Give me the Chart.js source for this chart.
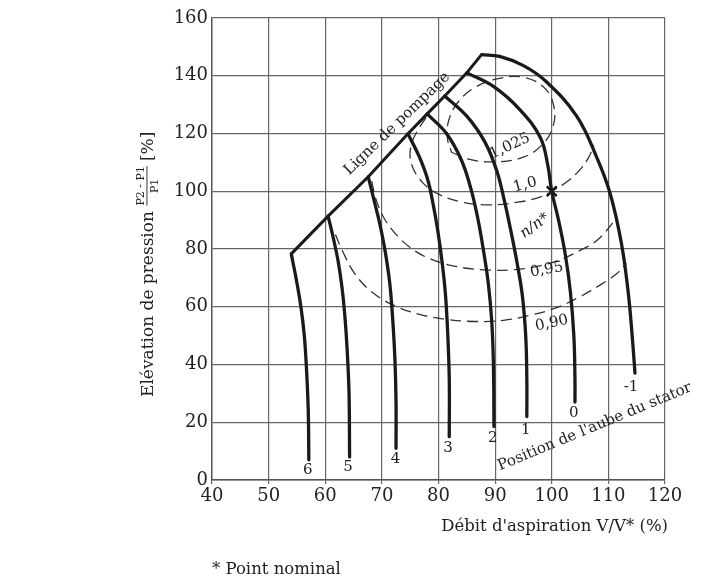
<!DOCTYPE html>
<html>
<head>
<meta charset="utf-8">
<script src="https://cdn.jsdelivr.net/npm/chart.js@4/dist/chart.umd.min.js"></script>
<style>
  html, body { margin: 0; padding: 0; background: #fff; }
</style>
</head>
<body>
<canvas id="myChart" width="724" height="580"></canvas>
<script>
// Courbes par position de l'aube du stator : [débit V/V* %, élévation de pression %]
const vane6  = [[54,78.3],[54.9,69.3],[55.7,60],[56.3,50],[56.7,38],[57,24],[57.1,7]];
const vane5  = [[60.5,91.4],[61.4,84],[62.3,75.5],[63,66],[63.5,56],[63.9,44],[64.2,30],[64.3,8]];
const vane4  = [[67.6,105],[68.6,97],[69.6,89],[70.6,79],[71.4,68],[71.9,56],[72.3,42],[72.5,27],[72.5,11]];
const vane3  = [[74.6,119.9],[76.6,112],[78.1,104],[79.1,95],[79.9,86],[80.6,76],[81.2,65],[81.6,52],[81.9,35],[81.9,15]];
const vane2  = [[78,126.8],[81.4,120],[84,111],[85.7,101],[86.9,91],[87.9,80],[88.8,68],[89.4,55],[89.7,40],[89.8,18.5]];
const vane1  = [[81.1,133],[85,126],[88.2,117],[90.3,107],[91.6,97],[92.7,87],[93.8,76],[94.8,64],[95.4,50],[95.6,35],[95.6,22]];
const vane0  = [[85,141],[89.7,136.3],[94.4,128.2],[98,118.5],[99.3,109],[100,100],[101.2,90],[102.4,78],[103.3,65],[103.9,50],[104.1,35],[104.1,27]];
const vaneM1 = [[87.6,147.3],[90.8,146.7],[95,143.5],[99,138],[104.4,126],[108,111.5],[110.3,99.3],[112.3,82],[113.5,65],[114.2,50],[114.7,37]];

// Ligne de pompage (sommets des courbes)
const surgeLine = [[54,78.3],[60.5,91.4],[67.6,105],[74.6,119.9],[78,126.8],[81.1,133],[85,141],[87.6,147.3]];

// Vitesse relative n/n* (pointillés)
const speed1025 = [[82.3,113.5],[85.5,111],[90,110.2],[95,111.8],[98.5,116.5],[100.3,123],[100.3,130],[98.6,136],[95,139.5],[90.5,139],[86.5,136],[83.5,131],[81.8,124.5],[81.6,118],[82.3,113.5]];
const speed100  = [[77.8,125.5],[76,120],[75,114],[75.4,108.5],[77.2,103],[80,99],[84,96.3],[89,95.3],[94,96.2],[97.5,97.7],[100,100],[102.8,103.5],[105,107.5],[106.6,112],[107.4,116]];
const speed095  = [[68.2,103.5],[69,97],[70.3,91],[72.3,85.5],[75,80.5],[78.5,76.6],[83,74],[88,72.8],[93,72.8],[97.5,74],[101.5,76.3],[105,79.5],[108,83],[111.2,90]];
const speed090  = [[61.8,85],[63,79.5],[65.2,71.5],[68.3,65],[72.3,60.3],[76.8,57.3],[81.5,55.6],[86.5,54.9],[91.5,55.3],[96.5,57.2],[101,59.8],[105,63.5],[108.5,67.5],[111.5,71.5],[113.2,75]];

// Point nominal
const nominalPoint = [[100,100]];

// Étiquettes
const vaneLabels = ['6','5','4','3','2','1','0','-1'];
const vaneLabelPos = [[56.9,3.5],[64,4.6],[72.4,7.2],[81.7,11],[89.6,14.4],[95.4,17.3],[103.9,23.1],[114,32]];
const speedLabels = ['1,025','1,0','n/n*','0,95','0,90'];
const speedLabelPos = [[92.6,115.6],[95.3,102.2],[97,88],[99.1,72.8],[100,54.3]];
const speedLabelAngle = [-25,-15,-35,-10,-12];

const xTicks = [40,50,60,70,80,90,100,110,120];
const yTicks = [0,20,40,60,80,100,120,140,160];

const serif = "'DejaVu Serif', serif";
const toPts = arr => arr.map(p => ({x: p[0], y: p[1]}));

const vanes = [vane6, vane5, vane4, vane3, vane2, vane1, vane0, vaneM1];
const datasets = [];
vanes.forEach((v, i) => {
  datasets.push({
    label: 'Position ' + vaneLabels[i],
    data: toPts(v),
    showLine: true, borderColor: '#1a1a1a', borderWidth: 3.3,
    pointRadius: 0, tension: 0.4, borderCapStyle: 'round'
  });
});
datasets.push({
  label: 'Ligne de pompage', data: toPts(surgeLine),
  showLine: true, borderColor: '#1a1a1a', borderWidth: 3,
  pointRadius: 0, tension: 0, borderJoinStyle: 'miter'
});
[speed1025, speed100, speed095, speed090].forEach((s, i) => {
  datasets.push({
    label: 'n/n* ' + speedLabels[[0,1,3,4][i]], data: toPts(s),
    showLine: true, borderColor: '#333', borderWidth: 1.3, borderDash: [11, 6],
    pointRadius: 0, tension: 0.4
  });
});
datasets.push({
  label: 'Point nominal', data: toPts(nominalPoint),
  showLine: false, pointStyle: 'crossRot', pointRadius: 7,
  borderColor: '#111', borderWidth: 2.5
});

// Textes dans le graphique
const textPlugin = {
  id: 'texts',
  afterDatasetsDraw(chart) {
    const {ctx, scales: {x, y}} = chart;
    ctx.save();
    ctx.fillStyle = '#222';
    ctx.textAlign = 'center';
    ctx.textBaseline = 'middle';
    ctx.font = '15px ' + serif;
    vaneLabels.forEach((t, i) => {
      ctx.fillText(t, x.getPixelForValue(vaneLabelPos[i][0]), y.getPixelForValue(vaneLabelPos[i][1]));
    });
    speedLabels.forEach((t, i) => {
      ctx.save();
      ctx.translate(x.getPixelForValue(speedLabelPos[i][0]), y.getPixelForValue(speedLabelPos[i][1]));
      ctx.rotate(speedLabelAngle[i] * Math.PI / 180);
      ctx.font = (t === 'n/n*' ? 'italic ' : '') + '15px ' + serif;
      ctx.fillText(t, 0, 0);
      ctx.restore();
    });
    // Ligne de pompage
    ctx.save();
    ctx.translate(x.getPixelForValue(72.7), y.getPixelForValue(123.4));
    ctx.rotate(-44 * Math.PI / 180);
    ctx.font = '15px ' + serif;
    ctx.fillText('Ligne de pompage', 0, 0);
    ctx.restore();
    // Position de l'aube
    ctx.save();
    ctx.translate(x.getPixelForValue(107.6), y.getPixelForValue(18.4));
    ctx.rotate(-22.5 * Math.PI / 180);
    ctx.font = '15px ' + serif;
    ctx.fillText("Position de l'aube du stator", 0, 0);
    ctx.restore();
    ctx.restore();
  },
  afterDraw(chart) {
    const {ctx, chartArea} = chart;
    ctx.save();
    ctx.fillStyle = '#222';
    // titre axe x
    ctx.font = '16.5px ' + serif;
    ctx.textAlign = 'right';
    ctx.textBaseline = 'alphabetic';
    ctx.fillText("Débit d'aspiration V/V* (%)", 668, 531);
    // note
    ctx.textAlign = 'left';
    ctx.fillText('* Point nominal', 212, 574);
    // titre axe y avec fraction
    ctx.translate(153, 397);
    ctx.rotate(-Math.PI / 2);
    ctx.font = '17px ' + serif;
    ctx.textAlign = 'left';
    const main = 'Elévation de pression ';
    ctx.fillText(main, 0, 0);
    let pos = ctx.measureText(main).width;
    ctx.font = '11px ' + serif;
    const num = 'P2 - P1';
    const w = ctx.measureText(num).width;
    ctx.textAlign = 'center';
    ctx.fillText(num, pos + w / 2, -9);
    ctx.fillText('P1', pos + w / 2, 5);
    ctx.fillRect(pos, -6.5, w, 0.9);
    pos += w + 5;
    ctx.font = '17px ' + serif;
    ctx.textAlign = 'left';
    ctx.fillText('[%]', pos, 0);
    ctx.restore();
  }
};

const config = {
  type: 'scatter',
  data: { datasets: datasets },
  options: {
    responsive: false,
    animation: false,
    layout: { padding: { left: 0, right: 59, top: 18, bottom: 0 } },
    plugins: { legend: { display: false }, tooltip: { enabled: false } },
    scales: {
      x: {
        type: 'linear', min: 40, max: 120,
        afterBuildTicks: s => { s.ticks = xTicks.map(v => ({value: v})); },
        afterFit: s => { s.height = 100; },
        ticks: { font: { family: serif, size: 18 }, color: '#222', padding: 2 },
        grid: { color: '#666', lineWidth: 1.2, tickLength: 4 },
        border: { color: '#555', width: 1.4 }
      },
      y: {
        type: 'linear', min: 0, max: 160,
        afterBuildTicks: s => { s.ticks = yTicks.map(v => ({value: v})); },
        afterFit: s => { s.width = 212; },
        ticks: { font: { family: serif, size: 18 }, color: '#222', padding: 4 },
        grid: { color: '#666', lineWidth: 1.2, tickLength: 0 },
        border: { color: '#555', width: 1.4 }
      }
    }
  },
  plugins: [textPlugin]
};

const myChart = new Chart(document.getElementById('myChart'), config);
</script>
</body>
</html>
